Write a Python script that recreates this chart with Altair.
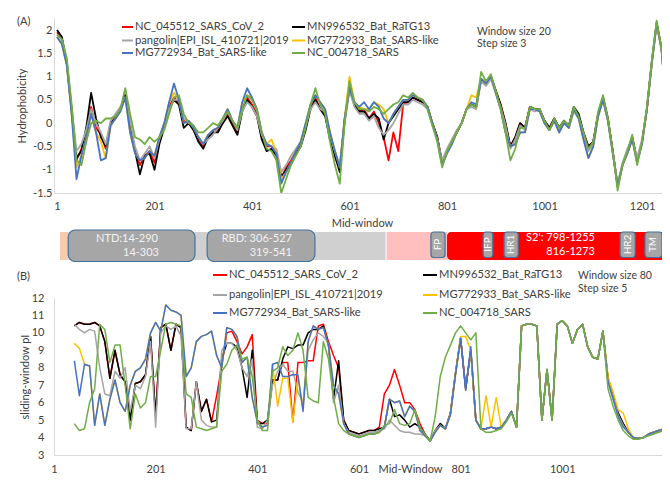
import altair as alt
import pandas as pd

FONT = "Lato"
TXT = "#404040"
AXIS_LINE = "#d9d9d9"

NAMES = ["NC_045512_SARS_CoV_2", "MN996532_Bat_RaTG13", "pangolin|EPI_ISL_410721|2019",
         "MG772933_Bat_SARS-like", "MG772934_Bat_SARS-like", "NC_004718_SARS"]
COLORS = ["#ff0000", "#000000", "#a5a5a5", "#ffc000", "#4472c4", "#70ad47"]

# ---------------- Panel A: hydrophobicity (window 20, step 3) ----------------
A_X = list(range(1, 1262, 10))
A_RED = [1.95,1.8,1.3,0.25,-0.8,-0.55,-0.2,0.35,-0.1,-0.25,
 -0.55,0.0,0.15,0.3,0.6,0.0,-0.6,-0.9,-0.7,-0.6,
 -0.85,-0.4,-0.1,0.35,0.55,0.45,0.05,0.0,-0.1,-0.35,
 -0.5,-0.3,-0.2,-0.15,0.0,0.2,0.0,-0.2,0.3,0.55,
 0.4,0.2,-0.3,-0.5,-0.5,-0.6,-1.2,-0.95,-0.8,-0.6,
 -0.45,-0.1,0.35,0.55,0.3,0.2,-0.3,-0.7,-1.0,0.1,
 0.8,0.4,0.25,0.3,0.1,0.25,0.0,-0.3,-0.8,-0.2,
 -0.6,0.4,0.45,0.55,0.5,0.45,0.35,0.0,-0.3,-0.85,
 -0.6,-0.4,-0.2,0.0,0.3,0.4,0.35,0.95,0.85,1.0,
 0.7,0.4,0.0,-0.5,-0.3,0.0,-0.1,0.35,0.3,0.3,
 0.05,-0.1,0.1,-0.1,0.05,-0.05,0.3,0.15,-0.2,-0.5,
 -0.4,0.2,0.55,0.1,-0.6,-1.35,-0.9,-0.6,-0.3,-0.8,
 -0.4,0.3,1.3,2.15,1.6,0.4,-0.1]
A_BLACK = [2.0,1.85,1.3,0.3,-0.75,-0.6,-0.1,0.65,0.1,-0.3,
 -0.5,0.0,0.1,0.3,0.6,-0.05,-0.6,-1.1,-0.7,-0.65,
 -1.0,-0.45,-0.1,0.3,0.5,0.4,-0.1,0.0,-0.15,-0.4,
 -0.55,-0.3,-0.2,-0.2,0.0,0.15,-0.05,-0.25,0.25,0.5,
 0.35,0.15,-0.35,-0.6,-0.55,-0.7,-1.15,-1.0,-0.85,-0.65,
 -0.5,-0.15,0.3,0.5,0.3,0.15,-0.35,-0.7,-1.05,0.05,
 0.75,0.4,0.25,0.25,0.1,0.2,0.1,-0.35,0.0,0.15,
 0.3,0.45,0.45,0.55,0.5,0.45,0.35,0.0,-0.3,-0.85,
 -0.6,-0.4,-0.2,0.0,0.3,0.4,0.35,0.95,0.85,1.0,
 0.7,0.4,0.0,-0.5,-0.3,0.0,-0.1,0.35,0.3,0.3,
 0.05,-0.1,0.1,-0.1,0.05,-0.05,0.35,0.2,-0.2,-0.5,
 -0.4,0.2,0.55,0.1,-0.6,-1.35,-0.9,-0.6,-0.3,-0.8,
 -0.4,0.3,1.3,2.15,1.6,0.4,-0.1]
A_GRAY = [1.9,1.8,1.35,0.35,-0.6,-0.45,-0.15,0.3,0.0,-0.2,
 -0.45,0.05,0.2,0.35,0.55,0.05,-0.5,-0.8,-0.65,-0.5,
 -0.75,-0.35,-0.05,0.3,0.5,0.5,0.1,0.05,-0.05,-0.3,
 -0.45,-0.35,-0.25,-0.1,0.05,0.25,0.05,-0.15,0.25,0.45,
 0.35,0.15,-0.25,-0.45,-0.5,-0.55,-1.05,-0.9,-0.7,-0.55,
 -0.4,-0.05,0.3,0.45,0.3,0.25,-0.25,-0.6,-0.9,0.0,
 0.7,0.35,0.2,0.2,0.05,0.15,-0.1,-0.25,-0.15,0.0,
 0.2,0.4,0.4,0.5,0.45,0.4,0.3,-0.05,-0.35,-0.8,
 -0.55,-0.35,-0.15,0.0,0.3,0.35,0.3,0.9,0.8,0.95,
 0.65,0.35,-0.05,-0.55,-0.35,-0.05,-0.15,0.3,0.25,0.3,
 0.0,-0.15,0.05,-0.15,0.0,-0.1,0.25,0.1,-0.3,-0.6,
 -0.45,0.15,0.5,0.05,-0.65,-1.3,-0.85,-0.55,-0.35,-0.75,
 -0.35,0.3,1.25,2.1,1.55,0.35,-0.1]
A_YELLOW = [1.85,1.7,1.25,0.2,-0.95,-0.7,-0.3,0.2,-0.2,-0.4,
 -0.75,-0.05,0.1,0.25,0.55,-0.2,-0.65,-0.8,-0.75,-0.6,
 -0.7,-0.3,0.0,0.45,0.65,0.5,0.0,0.05,-0.1,-0.3,
 -0.45,-0.25,-0.15,-0.1,0.1,0.3,0.05,-0.1,0.45,0.6,
 0.55,0.3,-0.2,-0.45,-0.35,-0.65,-1.2,-1.05,-0.85,-0.6,
 -0.4,0.0,0.4,0.6,0.45,0.3,-0.2,-0.6,-0.95,0.1,
 1.0,0.45,0.35,0.3,0.3,0.45,0.4,0.3,0.0,0.2,
 0.35,0.5,0.5,0.6,0.55,0.5,0.35,0.0,-0.35,-0.9,
 -0.65,-0.45,-0.2,0.0,0.3,0.6,0.55,0.95,0.85,1.0,
 0.65,0.3,-0.2,-0.5,-0.45,-0.2,-0.2,0.3,0.3,0.25,
 0.0,-0.15,0.05,-0.2,0.0,-0.1,0.3,0.1,-0.35,-0.75,
 -0.5,0.15,0.5,0.05,-0.65,-1.35,-0.9,-0.65,-0.35,-0.85,
 -0.45,0.3,1.3,2.15,1.6,0.35,-0.15]
A_BLUE = [1.85,1.7,1.25,0.2,-1.2,-0.7,-0.3,0.2,-0.2,-0.8,
 -0.75,-0.05,0.1,0.25,0.55,-0.2,-0.65,-0.8,-0.75,-0.6,
 -0.7,-0.3,0.0,0.45,0.85,0.5,0.0,0.05,-0.1,-0.3,
 -0.45,-0.25,-0.15,-0.1,0.1,0.3,0.05,-0.1,0.45,0.75,
 0.55,0.3,-0.2,-0.45,-0.5,-0.65,-1.3,-1.05,-0.85,-0.6,
 -0.4,0.0,0.4,0.6,0.45,0.3,-0.2,-0.6,-0.95,0.1,
 0.75,0.45,0.35,0.45,0.3,0.45,0.35,0.1,0.0,0.2,
 0.35,0.5,0.5,0.6,0.55,0.5,0.35,0.0,-0.35,-0.9,
 -0.65,-0.45,-0.2,0.0,0.3,0.45,0.4,0.95,0.85,1.0,
 0.65,0.3,-0.2,-0.5,-0.45,-0.2,-0.2,0.3,0.3,0.25,
 0.0,-0.15,0.05,-0.2,0.0,-0.1,0.3,0.1,-0.35,-0.75,
 -0.5,0.15,0.5,0.05,-0.65,-1.35,-0.9,-0.65,-0.35,-0.85,
 -0.45,0.3,1.3,2.15,1.6,0.35,-0.15]
A_GREEN = [1.9,1.8,1.4,0.4,-0.8,-0.9,-0.4,0.0,0.05,0.0,
 0.1,0.1,0.15,0.3,0.75,0.2,-0.3,-0.35,-0.45,-0.3,
 -0.4,-0.3,-0.15,0.2,0.55,0.6,0.2,0.0,-0.05,-0.2,
 -0.2,-0.1,0.0,-0.05,0.1,0.25,0.05,-0.1,0.3,0.6,
 0.5,0.3,-0.2,-0.55,-0.6,-0.8,-1.5,-1.2,-0.9,-0.7,
 -0.5,-0.1,0.4,0.75,0.4,0.2,-0.4,-0.9,-1.3,0.0,
 0.9,0.45,0.3,0.3,0.25,0.35,0.3,0.2,0.3,0.4,
 0.45,0.6,0.55,0.65,0.55,0.5,0.3,-0.05,-0.4,-0.95,
 -0.6,-0.4,-0.2,0.0,0.3,0.4,0.35,1.1,0.9,1.05,
 0.7,0.3,-0.2,-0.8,-0.55,-0.1,-0.1,0.35,0.3,0.3,
 0.05,-0.15,0.1,-0.1,0.05,-0.05,0.35,0.15,-0.2,-0.55,
 -0.4,0.25,0.6,0.1,-0.6,-1.45,-0.9,-0.6,-0.25,-0.9,
 -0.4,0.35,1.35,2.2,1.6,0.3,-0.15]
A_TICKS_X = [1, 201, 401, 601, 801, 1001, 1201]
A_TICKS_Y = [-1.5, -1, -0.5, 0, 0.5, 1, 1.5, 2]

# ---------------- Panel B: sliding-window pI (window 80, step 5) ----------------
B_X = list(range(41, 1212, 10))
B_RED = [10.4,10.6,10.5,10.5,10.6,10.4,9.5,7.4,9.0,7.6,
 7.2,5.0,7.1,7.2,7.6,9.8,5.2,10.3,10.5,9.0,
 10.5,10.3,4.6,4.4,7.2,5.5,6.2,4.9,6.4,8.1,
 10.0,10.1,9.5,8.8,9.2,9.9,5.0,4.8,4.8,7.3,
 7.3,8.3,8.3,4.9,8.3,8.3,8.4,8.4,10.4,10.5,
 9.5,8.7,8.0,5.0,4.4,4.3,4.2,4.3,4.4,4.4,
 4.6,6.5,7.0,7.9,7.0,6.0,6.0,5.6,4.8,4.2,
 3.8,4.4,4.8,4.5,5.4,7.7,9.7,6.8,9.0,5.0,
 4.5,4.5,4.6,4.5,4.6,5.0,5.5,4.6,10.4,10.5,
 10.5,10.4,5.0,7.9,5.0,10.5,10.7,10.4,9.4,10.2,
 10.5,9.2,8.6,8.5,10.1,7.4,6.4,5.4,4.8,4.3,
 4.0,3.95,4.0,4.2,4.3,4.4,4.5,4.4]
B_BLACK = [10.4,10.6,10.5,10.5,10.6,10.4,9.5,7.4,9.0,7.6,
 7.2,5.0,7.1,7.2,7.6,9.8,5.2,10.3,10.5,9.0,
 10.5,10.3,4.6,4.4,7.2,5.5,6.2,4.9,5.0,8.5,
 9.4,9.4,9.2,8.0,6.3,9.0,4.8,4.8,5.0,7.3,
 7.3,8.5,9.2,9.1,9.3,9.3,10.0,10.2,10.2,10.4,
 9.3,6.2,8.4,5.0,4.4,4.3,4.2,4.3,4.4,4.4,
 4.5,4.6,6.2,5.2,5.3,5.0,4.6,4.8,4.6,4.2,
 3.8,4.4,4.8,4.5,5.4,7.7,9.7,6.8,9.0,5.0,
 4.5,4.5,4.6,4.5,4.6,5.0,5.5,4.6,10.4,10.5,
 10.5,10.4,5.0,7.9,5.0,10.5,10.7,10.4,9.4,10.2,
 10.5,9.2,8.6,8.5,10.1,7.4,6.4,5.4,4.8,4.3,
 4.0,3.95,4.0,4.2,4.3,4.4,4.5,4.4]
B_GRAY = [10.5,10.2,10.0,10.2,10.1,8.0,6.5,6.4,7.8,7.4,
 8.0,5.5,7.0,6.8,7.5,9.5,4.6,10.0,10.4,10.2,
 10.4,9.8,4.5,4.5,7.2,5.0,4.7,4.6,4.6,9.0,
 9.4,9.4,9.0,8.0,7.5,8.5,4.6,4.5,5.0,7.0,
 7.8,8.2,7.8,7.8,6.6,6.0,9.0,9.6,10.0,9.8,
 9.4,6.0,7.0,4.8,4.3,4.2,4.1,4.2,4.3,4.3,
 4.4,4.5,5.0,4.7,4.4,4.3,4.3,4.2,4.2,4.1,
 3.8,4.4,4.7,4.5,5.4,7.7,9.7,6.8,9.0,5.0,
 4.5,4.5,4.6,4.5,4.6,5.0,5.5,4.6,10.4,10.5,
 10.5,10.4,5.0,7.9,5.0,10.5,10.7,10.4,9.4,10.2,
 10.5,9.2,8.6,8.5,10.1,7.3,6.3,5.3,4.7,4.3,
 4.0,3.95,4.0,4.2,4.3,4.4,4.5,4.4]
B_YELLOW = [9.4,9.1,8.2,8.1,4.7,6.5,4.7,6.2,7.3,6.0,
 5.5,7.0,7.8,8.0,8.5,10.0,10.6,10.1,11.6,11.3,
 11.2,11.0,7.5,8.0,9.5,9.8,9.9,10.1,8.7,8.0,
 10.3,10.2,9.8,8.3,8.6,6.3,4.9,4.6,4.7,8.2,
 5.8,7.4,7.4,4.9,7.4,5.7,9.5,10.4,10.2,10.3,
 9.3,7.0,6.5,4.8,4.2,4.1,4.0,4.1,4.2,4.2,
 4.3,4.6,6.2,6.0,6.1,5.2,5.8,5.5,4.4,4.1,
 3.8,4.3,4.7,4.5,5.3,7.6,9.8,9.8,9.0,5.0,
 4.5,6.4,4.6,6.3,4.6,5.0,5.5,4.6,10.4,10.5,
 10.5,10.4,5.0,7.9,5.0,10.5,10.7,10.4,9.4,10.2,
 10.5,9.2,8.6,8.5,10.1,7.5,6.6,5.6,5.4,4.5,
 4.0,3.95,4.0,4.2,4.3,4.4,4.5,4.5]
B_BLUE = [8.4,6.4,8.2,8.1,4.7,6.5,4.7,6.2,7.3,6.0,
 5.5,7.0,7.8,8.0,8.5,10.0,10.6,10.1,11.6,11.3,
 11.2,11.0,7.5,8.0,9.5,9.8,9.9,10.1,8.7,8.0,
 10.3,10.2,9.8,8.3,8.6,6.3,4.9,4.6,4.7,8.2,
 8.3,7.5,7.5,7.6,7.6,5.5,9.5,10.4,10.2,10.3,
 9.3,7.0,6.5,4.8,4.2,4.1,4.0,4.1,4.2,4.2,
 4.3,4.6,6.2,6.0,6.1,5.2,5.8,5.5,4.4,4.1,
 3.8,4.3,4.7,4.5,5.3,7.6,9.7,6.7,9.2,5.0,
 4.5,4.5,4.6,4.5,4.6,5.0,5.5,4.6,10.4,10.5,
 10.5,10.4,5.0,7.9,5.0,10.5,10.7,10.4,9.4,10.2,
 10.5,9.2,8.6,8.5,10.1,7.2,6.2,5.2,4.6,4.3,
 4.0,3.95,4.0,4.2,4.3,4.4,4.5,4.6]
B_GREEN = [4.8,4.4,4.5,6.0,6.8,10.5,10.2,8.3,9.3,9.3,
 7.0,4.5,6.5,5.7,6.0,7.5,7.5,9.0,10.5,10.6,
 10.5,10.4,6.5,6.3,4.6,4.5,4.4,4.5,4.6,7.8,
 8.2,9.0,9.3,8.5,8.6,7.5,5.0,4.4,4.4,7.8,
 8.0,9.2,8.7,9.0,10.0,9.0,6.3,6.1,6.0,9.5,
 8.5,6.3,4.8,4.4,4.2,4.1,4.0,4.1,4.2,4.2,
 4.3,4.7,4.8,5.6,4.8,4.7,4.8,5.6,4.6,4.2,
 3.8,5.2,7.5,8.6,9.3,10.0,10.4,10.0,9.6,10.0,
 4.5,4.3,4.3,4.4,4.5,4.9,5.4,4.6,10.4,10.5,
 10.5,10.4,5.0,7.9,5.0,10.5,10.7,10.4,9.4,10.2,
 10.5,9.2,8.6,8.5,10.1,6.8,5.8,5.0,4.4,4.1,
 3.9,3.9,4.0,4.1,4.2,4.3,4.4,4.4]
B_TICKS_X = [1, 201, 401, 601, 801, 1001]
B_TICKS_Y = [3, 4, 5, 6, 7, 8, 9, 10, 11, 12]

# ---------------- Spike domain map (residue ranges) ----------------
BG_START = [7, 24, 677]
BG_END = [24, 675, 801]
BG_FILL = ["#f8cbad", "#d0d0d0", "#ffbfbf"]
S2_START = [801]
S2_END = [1265]
BIG_NAMES = ["NTD", "RBD"]
BIG_START = [24, 309]
BIG_END = [284, 530]
SMALL_NAMES = ["FP", "IFP", "HR1", "HR2", "TM", ""]
SMALL_START = [768, 875, 918, 1156, 1207, 1252]
SMALL_END = [797, 895, 947, 1187, 1242, 1275]

W = 616
HA, HBAR, HB = 175, 33, 157
A_XDOM = [-5.15, 1258.4]
B_XDOM = [1, 1213]
LEG_SIZE = 11.2
NOTE_SIZE = 10.5


def axis_x(values, title, pad, ty, tx=None):
    kw = dict(values=values, format="d", title=title, domainColor=AXIS_LINE, domainWidth=1,
              ticks=False, tickSize=0, grid=False, labelPadding=pad, labelFlush=False,
              labelFont=FONT, labelFontSize=11, labelColor=TXT, titleFont=FONT,
              titleFontSize=11, titleFontWeight="normal", titleColor=TXT,
              titleY=ty, titleBaseline="middle")
    if tx is not None:
        kw["titleX"] = tx
        kw["titleAlign"] = "center"
    return alt.Axis(**kw)


def axis_y(values, title, pad, tx, h, expr=None):
    kw = dict(values=values, title=title, domainColor=AXIS_LINE, domainWidth=1, ticks=False,
              tickSize=0, grid=False, labelPadding=pad, labelFlush=False, labelFont=FONT,
              labelFontSize=11, labelColor=TXT, titleFont=FONT, titleFontSize=11,
              titleFontWeight="normal", titleColor=TXT, titleAngle=270, titleX=tx,
              titleY=h / 2, titleAlign="center", titleBaseline="middle")
    if expr:
        kw["labelExpr"] = expr
    return alt.Axis(**kw)


def line_layers(xs, ys_list, xdom, ydom, xax, yax, sw):
    out = []
    for ys, col in zip(ys_list, COLORS):
        df = pd.DataFrame({"x": xs, "y": ys})
        out.append(alt.Chart(df).mark_line(color=col, strokeWidth=sw, clip=True, strokeJoin="round").encode(
            x=alt.X("x:Q", scale=alt.Scale(domain=xdom, nice=False, zero=False), axis=xax),
            y=alt.Y("y:Q", scale=alt.Scale(domain=ydom, nice=False, zero=False), axis=yax)))
    return out


def txt(s, x, y, size=11, align="left", color=TXT, angle=0):
    return alt.Chart(pd.DataFrame({"t": [s]})).mark_text(
        align=align, baseline="middle", fontSize=size, font=FONT, color=color, angle=angle
    ).encode(x=alt.value(x), y=alt.value(y), text="t:N")


def seg(x1, x2, y, color, sw=2):
    return alt.Chart(pd.DataFrame({"a": [0]})).mark_rule(color=color, strokeWidth=sw).encode(
        x=alt.value(x1), x2=alt.value(x2), y=alt.value(y), y2=alt.value(y))


def spacer(x, y1, y2):
    return alt.Chart(pd.DataFrame({"a": [0]})).mark_rule(opacity=0, strokeWidth=1).encode(
        x=alt.value(x), x2=alt.value(x), y=alt.value(y1), y2=alt.value(y2))


def legend(rows_y, c1_line, c2_line, gap=2):
    out = []
    for i, (name, col) in enumerate(zip(NAMES, COLORS)):
        r, c = i // 2, i % 2
        lx = c1_line if c == 0 else c2_line
        out.append(seg(lx[0], lx[1], rows_y[r], col))
        out.append(txt(name, lx[1] + gap, rows_y[r], size=LEG_SIZE))
    return out


# Panel A
A_YDOM = [-1.5, 2.258]
ax_a = axis_x(A_TICKS_X, "Mid-window", 7, 30)
ay_a = axis_y(A_TICKS_Y, "Hydrophobicity", 2, -32, HA, "'' + datum.value")
layers_a = line_layers(A_X, [A_RED, A_BLACK, A_GRAY, A_YELLOW, A_BLUE, A_GREEN], A_XDOM, A_YDOM, ax_a, ay_a, 1.8)
deco_a = legend([9, 22.5, 35], (68, 79), (238, 251)) + [
    txt("(A)", -37, 4),
    txt("Window size 20", 423, 14, size=NOTE_SIZE),
    txt("Step size 3", 423, 26, size=NOTE_SIZE),
    spacer(-45.5, -9.5, 0),
    spacer(624.5, 0, 10),
]
chart_a = alt.layer(*layers_a, *deco_a).properties(width=W, height=HA)

# Domain bar
xs_bar = alt.Scale(domain=A_XDOM, nice=False, zero=False)
bg = alt.Chart(pd.DataFrame({"s": BG_START, "e": BG_END, "f": BG_FILL})).mark_rect(clip=True).encode(
    x=alt.X("s:Q", scale=xs_bar, axis=None), x2="e:Q", y=alt.value(3), y2=alt.value(31),
    color=alt.Color("f:N", scale=None))
s2 = alt.Chart(pd.DataFrame({"s": S2_START, "e": S2_END})).mark_rect(
    clip=True, color="#ff0000", cornerRadius=4).encode(
    x=alt.X("s:Q", scale=xs_bar, axis=None), x2="e:Q", y=alt.value(3), y2=alt.value(31))
big = alt.Chart(pd.DataFrame({"n": BIG_NAMES, "s": BIG_START, "e": BIG_END})).mark_rect(
    fill="#a6a6a6", stroke="#41719c", strokeWidth=1.2, cornerRadius=7, clip=True).encode(
    x=alt.X("s:Q", scale=xs_bar, axis=None), x2="e:Q", y=alt.value(1), y2=alt.value(32.5))
small_df = pd.DataFrame({"n": SMALL_NAMES, "s": SMALL_START, "e": SMALL_END})
small_df["m"] = (small_df["s"] + small_df["e"]) / 2
small = alt.Chart(small_df).mark_rect(
    fill="#a6a6a6", stroke="#41719c", strokeWidth=1.2, cornerRadius=3, clip=True).encode(
    x=alt.X("s:Q", scale=xs_bar, axis=None), x2="e:Q", y=alt.value(3), y2=alt.value(28.5))
small_lbl = alt.Chart(small_df).mark_text(
    angle=270, color="#ffffff", fontSize=10, font=FONT, align="center", baseline="middle").encode(
    x=alt.X("m:Q", scale=xs_bar, axis=None), y=alt.value(15.5), text="n:N")
bar_txt = [
    txt("NTD:14-290", 104, 10, align="right", color="#f2f2f2"),
    txt("14-303", 105, 24, align="right", color="#f2f2f2"),
    txt("RBD: 306-527", 238, 10, align="right", color="#f2f2f2"),
    txt("319-541", 238, 24, align="right", color="#f2f2f2"),
    txt("S2': 798-1255", 541, 9, align="right", color="#ffffff"),
    txt("816-1273", 541, 23, align="right", color="#ffffff"),
]
chart_bar = alt.layer(bg, s2, big, small, small_lbl, *bar_txt).properties(width=W, height=HBAR)

# Panel B
B_YDOM = [3, 12]
ax_b = axis_x(B_TICKS_X, "Mid-Window", 8, 14, 356)
ay_b = axis_y(B_TICKS_Y, "sliding-window pI", 10, -29, HB)
layers_b = line_layers(B_X, [B_RED, B_BLACK, B_GRAY, B_YELLOW, B_BLUE, B_GREEN], B_XDOM, B_YDOM, ax_b, ay_b, 1.5)
deco_b = legend([-23, -3, 15], (159, 173), (369, 383)) + [
    txt("(B)", -37, -21),
    txt("Window size 80", 524, -22, size=NOTE_SIZE),
    txt("Step size 5", 524, -9, size=NOTE_SIZE),
    spacer(-45.5, HB + 20, HB + 30),
]
chart_b = alt.layer(*layers_b, *deco_b).properties(width=W, height=HB)

chart = alt.vconcat(chart_a, chart_bar, chart_b, spacing=36, bounds="flush").properties(
    padding={"left": 0, "top": 0, "right": -17, "bottom": -11}, background="white"
).configure_view(stroke=None)

chart.save("out.html", embed_options={"renderer": "svg", "actions": False})
